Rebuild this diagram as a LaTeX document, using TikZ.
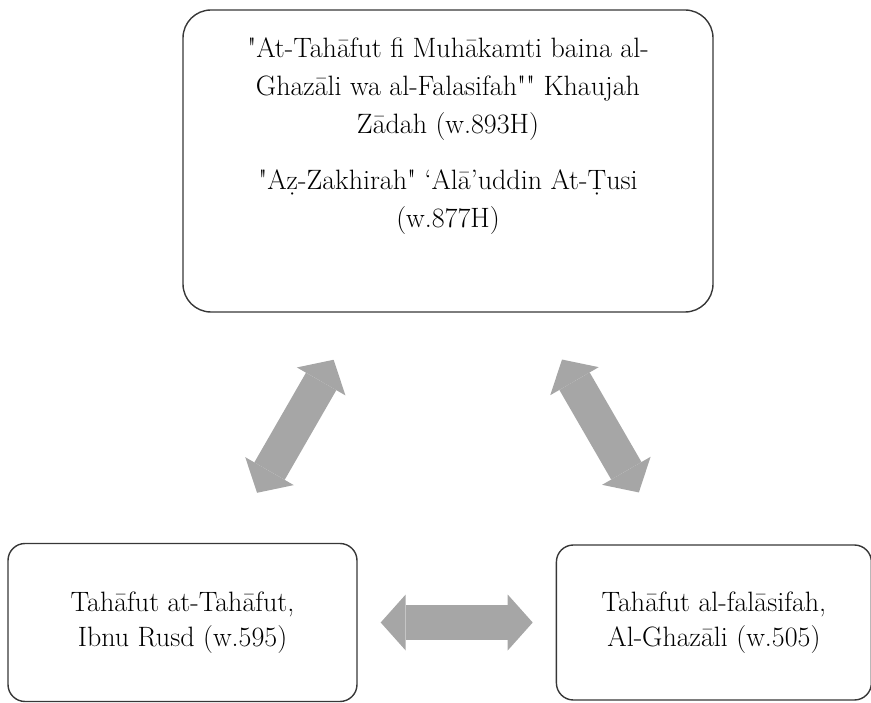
\documentclass[tikz,border=0pt]{standalone}
\usepackage{fontspec}
\setmainfont{Latin Modern Roman}[Ligatures=TeXOff]
\usepackage{tikz}
\usetikzlibrary{arrows.meta, positioning}
\definecolor{garis}{RGB}{55,55,55}
\definecolor{panah}{RGB}{166,166,166}
\tikzstyle{kotak} = [rectangle, draw=garis, line width=1.4pt, rounded corners=17pt, align=center, font=\fontsize{28}{35}\selectfont]
\tikzstyle{teks} = [align=center, inner sep=0pt, font=\fontsize{28}{38}\selectfont]
\tikzstyle{bigarrow} = [draw=panah, line width=35pt, {Triangle[width=56pt,length=25pt,line width=0pt]}-{Triangle[width=56pt,length=25pt,line width=0pt]}]

\begin{document}
\begin{tikzpicture}[x=1pt, y=-1pt]
\useasboundingbox (0,0) rectangle (871,703);

\node [kotak, rounded corners=28pt, minimum width=530pt, minimum height=302pt] (kitab) at (448,161) {};
\node [teks] (kitabteks) at (448,136) {"At-Tahāfut fi Muhākamti baina al-\\Ghazāli wa al-Falasifah"" Khaujah\\Zādah (w.893H)\\[18pt]"Aẓ-Zakhirah" ‘Alā’uddin At-Ṭusi\\(w.877H)};

\node [kotak, minimum width=349pt, minimum height=158pt] (rusd) at (182.5,622.5) {Tahāfut at-Tahāfut,\\Ibnu Rusd (w.595)};
\node [kotak, minimum width=315pt, minimum height=155pt] (ghazali) [right=198pt of rusd] {Tahāfut al-falāsifah,\\Al-Ghazāli (w.505)};

\draw [bigarrow, shorten <=57.7pt, shorten >=54.3pt] (rusd) to (kitab);
\draw [bigarrow, shorten <=54.1pt, shorten >=59.9pt] (kitab) to (ghazali);
\draw [bigarrow, shorten <=23pt, shorten >=23pt] (rusd) to (ghazali);
\end{tikzpicture}
\end{document}
